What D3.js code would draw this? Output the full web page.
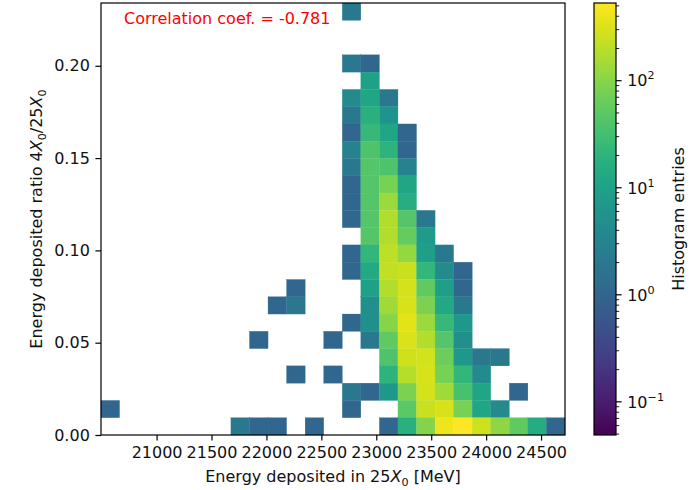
<!DOCTYPE html>
<html>
<head>
<meta charset="utf-8">
<script src="https://cdn.jsdelivr.net/npm/d3@7"></script>
<style>
  html, body { margin: 0; padding: 0; background: #fff; }
  svg { display: block; font-family: "DejaVu Sans", sans-serif; }
</style>
</head>
<body>
<svg id="chart" width="699" height="490"></svg>
<script>
// Histogram binning (25 x 25 bins over the data range)
const nBins = 25;
const energyRange = [20494, 24718];      // MeV, energy in 25 X0
const ratioRange = [0, 0.234];           // energy ratio 4 X0 / 25 X0

// Non-empty cells: [energy bin index, ratio bin index, entries]
const cells = [
  [0, 1, 1],
  [7, 0, 2], [8, 0, 1], [9, 0, 1], [11, 0, 1],
  [10, 3, 1], [12, 3, 1], [8, 5, 1], [12, 5, 1],
  [9, 7, 1], [10, 7, 2], [10, 8, 1],
  // column 13
  [13, 24, 2], [13, 21, 2], [13, 19, 4], [13, 18, 2], [13, 17, 1], [13, 16, 3],
  [13, 15, 2], [13, 14, 1], [13, 13, 1], [13, 12, 1], [13, 10, 1], [13, 9, 1],
  [13, 6, 1], [13, 2, 2], [13, 1, 1],
  // column 14
  [14, 21, 1], [14, 20, 10], [14, 19, 12], [14, 18, 18], [14, 17, 25], [14, 16, 40],
  [14, 15, 45], [14, 14, 45], [14, 13, 45], [14, 12, 45], [14, 11, 45], [14, 10, 22],
  [14, 9, 14], [14, 8, 10], [14, 7, 5], [14, 6, 5], [14, 5, 2], [14, 2, 1],
  // column 15
  [15, 19, 2], [15, 18, 6], [15, 17, 12], [15, 16, 20], [15, 15, 40], [15, 14, 80],
  [15, 13, 130], [15, 12, 180], [15, 11, 180], [15, 10, 210], [15, 9, 230], [15, 8, 180],
  [15, 7, 140], [15, 6, 100], [15, 5, 55], [15, 4, 40], [15, 3, 20], [15, 2, 7], [15, 0, 1],
  // column 16
  [16, 17, 1], [16, 16, 1], [16, 15, 3], [16, 14, 12], [16, 13, 16], [16, 12, 45],
  [16, 11, 60], [16, 10, 120], [16, 9, 240], [16, 8, 290], [16, 7, 300], [16, 6, 350],
  [16, 5, 320], [16, 4, 270], [16, 3, 190], [16, 2, 85], [16, 1, 50], [16, 0, 18],
  // column 17
  [17, 12, 2], [17, 11, 8], [17, 10, 9], [17, 9, 22], [17, 8, 55], [17, 7, 85],
  [17, 6, 130], [17, 5, 180], [17, 4, 280], [17, 3, 300], [17, 2, 280], [17, 1, 240], [17, 0, 95],
  // column 18
  [18, 10, 2], [18, 9, 4], [18, 8, 9], [18, 7, 13], [18, 6, 25], [18, 5, 45],
  [18, 4, 65], [18, 3, 80], [18, 2, 140], [18, 1, 300], [18, 0, 420],
  // column 19
  [19, 9, 1], [19, 8, 1], [19, 7, 2], [19, 6, 7], [19, 5, 5], [19, 4, 7],
  [19, 3, 22], [19, 2, 35], [19, 1, 80], [19, 0, 530],
  // columns 20-24
  [20, 4, 2], [20, 3, 4], [20, 2, 12], [20, 1, 12], [20, 0, 260],
  [21, 4, 2], [21, 1, 4], [21, 0, 110],
  [22, 2, 1], [22, 0, 55],
  [23, 0, 15],
  [24, 0, 1]
];

const colorDomain = [0.049, 532];
const xTicks = [21000, 21500, 22000, 22500, 23000, 23500, 24000, 24500];
const yTicks = [0.00, 0.05, 0.10, 0.15, 0.20];
const cbarTicks = [0.1, 1, 10, 100];
const annotation = "Correlation coef. = -0.781";

const svg = d3.select("#chart");
const plot = { left: 101, right: 565, top: 3, bottom: 435 };
const cbar = { left: 594, right: 616, top: 3, bottom: 435 };

const fontSize = "16px";
const supSize = "11.2px";
const textColor = "#111";
const tickLen = 5.6;
const tickPad = 5.6;
const lineW = 1.2;

const x = d3.scaleLinear().domain(energyRange).range([plot.left, plot.right]);
const y = d3.scaleLinear().domain(ratioRange).range([plot.bottom, plot.top]);
const color = d3.scaleSequentialLog(d3.interpolateViridis).domain(colorDomain);

const xStep = (energyRange[1] - energyRange[0]) / nBins;
const yStep = (ratioRange[1] - ratioRange[0]) / nBins;

// Histogram cells
svg.append("g")
  .selectAll("rect")
  .data(cells)
  .join("rect")
  .attr("x", d => x(energyRange[0] + d[0] * xStep))
  .attr("y", d => y(ratioRange[0] + (d[1] + 1) * yStep))
  .attr("width", d => x(energyRange[0] + (d[0] + 1) * xStep) - x(energyRange[0] + d[0] * xStep))
  .attr("height", d => y(ratioRange[0] + d[1] * yStep) - y(ratioRange[0] + (d[1] + 1) * yStep))
  .attr("fill", d => color(d[2]))
  .attr("stroke", d => color(d[2]))
  .attr("stroke-width", 0.3);

// Axes
const xAxis = svg.append("g")
  .attr("transform", `translate(0,${plot.bottom})`)
  .call(d3.axisBottom(x).tickValues(xTicks).tickFormat(d3.format("d")).tickSize(tickLen).tickPadding(tickPad));
const yAxis = svg.append("g")
  .attr("transform", `translate(${plot.left},0)`)
  .call(d3.axisLeft(y).tickValues(yTicks).tickFormat(d3.format(".2f")).tickSize(tickLen).tickPadding(tickPad));
[xAxis, yAxis].forEach(g => {
  g.select(".domain").remove();
  g.selectAll("line").attr("stroke", "#000").attr("stroke-width", lineW);
  g.selectAll("text").attr("font-size", fontSize).attr("fill", textColor)
    .attr("font-family", "DejaVu Sans, sans-serif");
});

// Frame
svg.append("rect")
  .attr("x", plot.left).attr("y", plot.top)
  .attr("width", plot.right - plot.left).attr("height", plot.bottom - plot.top)
  .attr("fill", "none").attr("stroke", "#000").attr("stroke-width", lineW);

// Annotation
svg.append("text")
  .attr("x", 124).attr("y", 23.5)
  .attr("fill", "#ff0000").attr("font-size", fontSize)
  .text(annotation);

// Axis labels
const xLabel = svg.append("text")
  .attr("x", (plot.left + plot.right) / 2).attr("y", 482)
  .attr("text-anchor", "middle").attr("font-size", fontSize).attr("fill", textColor);
xLabel.append("tspan").text("Energy deposited in 25");
xLabel.append("tspan").attr("font-style", "italic").text("X");
xLabel.append("tspan").attr("font-size", supSize).attr("dy", 3.5).text("0");
xLabel.append("tspan").attr("dy", -3.5).text(" [MeV]");

const yLabel = svg.append("text")
  .attr("transform", `translate(42,${(plot.top + plot.bottom) / 2}) rotate(-90)`)
  .attr("text-anchor", "middle").attr("font-size", fontSize).attr("fill", textColor);
yLabel.append("tspan").text("Energy deposited ratio 4");
yLabel.append("tspan").attr("font-style", "italic").text("X");
yLabel.append("tspan").attr("font-size", supSize).attr("dy", 3.5).text("0");
yLabel.append("tspan").attr("dy", -3.5).text("/25");
yLabel.append("tspan").attr("font-style", "italic").text("X");
yLabel.append("tspan").attr("font-size", supSize).attr("dy", 3.5).text("0");

// Colorbar
const cy = d3.scaleLog().domain(colorDomain).range([cbar.bottom, cbar.top]);
const grad = svg.append("defs").append("linearGradient")
  .attr("id", "cbar-grad").attr("x1", 0).attr("y1", 1).attr("x2", 0).attr("y2", 0);
d3.range(0, 1.0001, 0.02).forEach(t => {
  grad.append("stop").attr("offset", t).attr("stop-color", d3.interpolateViridis(t));
});
svg.append("rect")
  .attr("x", cbar.left).attr("y", cbar.top)
  .attr("width", cbar.right - cbar.left).attr("height", cbar.bottom - cbar.top)
  .attr("fill", "url(#cbar-grad)").attr("stroke", "#000").attr("stroke-width", lineW);

// Colorbar minor ticks
const minor = [];
[0.01, 0.1, 1, 10, 100].forEach(dec => {
  for (let k = 2; k <= 9; k++) {
    const v = dec * k;
    if (v >= colorDomain[0] && v <= colorDomain[1]) minor.push(v);
  }
});
svg.append("g").selectAll("line").data(minor).join("line")
  .attr("x1", cbar.right).attr("x2", cbar.right + 3.2)
  .attr("y1", d => cy(d)).attr("y2", d => cy(d))
  .attr("stroke", "#000").attr("stroke-width", 0.9);

const major = svg.append("g").selectAll("g").data(cbarTicks).join("g")
  .attr("transform", d => `translate(${cbar.right},${cy(d)})`);
major.append("line").attr("x2", tickLen).attr("stroke", "#000").attr("stroke-width", lineW);
const lbl = major.append("text").attr("x", tickLen + tickPad).attr("dy", "0.36em")
  .attr("font-size", fontSize).attr("fill", textColor);
lbl.append("tspan").text("10");
lbl.append("tspan").attr("dy", -7).attr("font-size", supSize)
  .text(d => d3.format("d")(Math.round(Math.log10(d))).replace("-", "\u2212"));

// Colorbar label
svg.append("text")
  .attr("transform", `translate(683.5,${(cbar.top + cbar.bottom) / 2}) rotate(-90)`)
  .attr("text-anchor", "middle").attr("font-size", fontSize).attr("fill", textColor)
  .text("Histogram entries");
</script>
</body>
</html>
